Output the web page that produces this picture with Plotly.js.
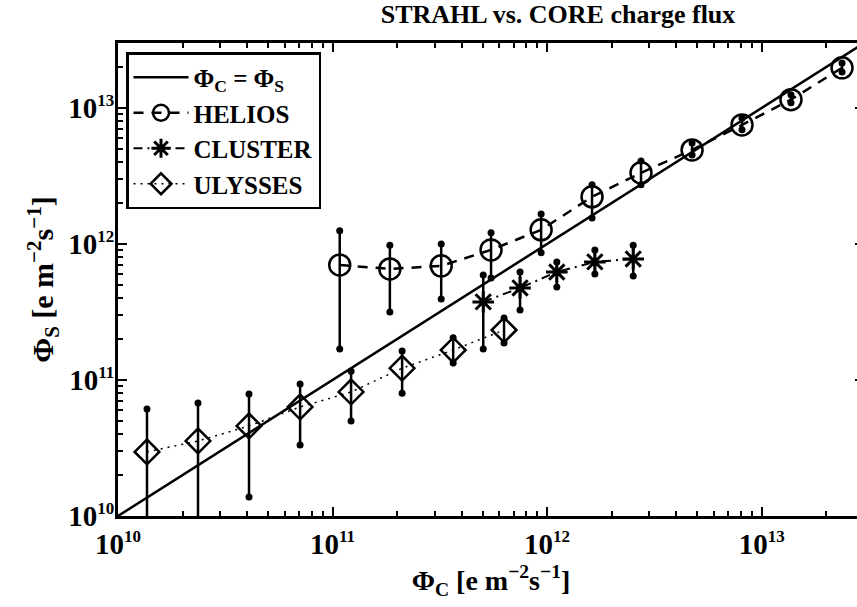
<!DOCTYPE html>
<html>
<head>
<meta charset="utf-8">
<script src="https://cdn.plot.ly/plotly-3.0.1.min.js"></script>
<style>
html,body{margin:0;padding:0;overflow:hidden;background:#fff;}
#chart{width:870px;height:607px;}
</style>
</head>
<body>
<div id="chart"></div>
<script>
// Identity line Phi_C = Phi_S
const diagX = [1e10, 3e13];
const diagY = [1e10, 3e13];

// HELIOS
const helX  = [1.08e11, 1.85e11, 3.21e11, 5.48e11, 9.38e11, 1.62e12, 2.74e12, 4.74e12, 8.1e12, 1.37e13, 2.37e13];
const helY  = [7.0e11, 6.55e11, 6.9e11, 9.04e11, 1.27e12, 2.22e12, 3.33e12, 4.91e12, 7.5e12, 1.15e13, 1.97e13];
const helHi = [1.25e12, 9.8e11, 1.0e12, 1.21e12, 1.66e12, 2.72e12, 4.07e12, 5.53e12, 8.4e12, 1.25e13, 2.14e13];
const helLo = [1.69e11, 3.16e11, 3.94e11, 5.62e11, 8.6e11, 1.55e12, 2.72e12, 4.5e12, 6.9e12, 1.09e13, 1.84e13];

// CLUSTER
const cluX  = [5.04e11, 7.48e11, 1.11e12, 1.67e12, 2.52e12];
const cluY  = [3.75e11, 4.75e11, 6.22e11, 7.38e11, 7.76e11];
const cluHi = [5.92e11, 6.22e11, 7.38e11, 9.04e11, 9.8e11];
const cluLo = [1.69e11, 3.27e11, 4.83e11, 6.0e11, 5.8e11];

// ULYSSES
const ulyX  = [1.365e10, 2.36e10, 4.08e10, 7.06e10, 1.22e11, 2.11e11, 3.65e11, 6.3e11];
const ulyY  = [2.96e10, 3.56e10, 4.59e10, 6.33e10, 8.16e10, 1.22e11, 1.66e11, 2.33e11];
const ulyHi = [6.12e10, 6.78e10, 7.89e10, 9.35e10, 1.16e11, 1.63e11, 2.04e11, 2.86e11];
const ulyLo = [5e9, 5e9, 1.38e10, 3.33e10, 5.0e10, 8.0e10, 1.33e11, 1.87e11];

// Axis ticks
const majorVals = [1e10, 1e11, 1e12, 1e13];
const majorExp  = ['10', '11', '12', '13'];
const majorText = majorExp.map(e => '10<sup><span style="font-size:17px">' + e + '</span></sup>');
const minorVals = [];
[10, 11, 12, 13].forEach(function (e) {
  for (let m = 2; m <= 9; m++) minorVals.push(m * Math.pow(10, e));
});

const serif = 'Liberation Serif, Times New Roman, serif';

function errTrace(x, y, hi, lo) {
  return {
    type: 'scatter', mode: 'markers', showlegend: false, hoverinfo: 'skip',
    x: x, y: y,
    marker: {size: 0.1, color: 'rgba(0,0,0,0)'},
    error_y: {type: 'data', symmetric: false,
      array: hi.map((h, i) => h - y[i]),
      arrayminus: lo.map((l, i) => y[i] - l),
      color: 'black', thickness: 2.5, width: 0}
  };
}
function dotTrace(x, hi, lo) {
  return {
    type: 'scatter', mode: 'markers', showlegend: false, hoverinfo: 'skip',
    x: x.concat(x), y: hi.concat(lo),
    marker: {symbol: 'circle', size: 7, color: 'black'}
  };
}

const traces = [
  errTrace(helX, helY, helHi, helLo),
  errTrace(cluX, cluY, cluHi, cluLo),
  errTrace(ulyX, ulyY, ulyHi, ulyLo),
  dotTrace(helX, helHi, helLo),
  dotTrace(cluX, cluHi, cluLo),
  dotTrace(ulyX, ulyHi, ulyLo),
  {type: 'scatter', mode: 'lines', name: 'Φ<sub>C</sub> = Φ<sub>S</sub>',
   x: diagX, y: diagY, line: {color: 'black', width: 2.5}},
  {type: 'scatter', mode: 'lines+markers', name: 'HELIOS',
   x: helX, y: helY, line: {color: 'black', width: 2.5, dash: '10px,8px'},
   marker: {symbol: 'circle-open', size: 21, color: 'black', line: {width: 2.5, color: 'black'}}},
  {type: 'scatter', mode: 'lines+markers', name: 'CLUSTER',
   x: cluX, y: cluY, line: {color: 'black', width: 2, dash: '9px,5px,2px,5px'},
   marker: {symbol: 'asterisk-open', size: 18, color: 'black', line: {width: 3, color: 'black'}}},
  {type: 'scatter', mode: 'lines+markers', name: 'ULYSSES',
   x: ulyX, y: ulyY, line: {color: 'black', width: 1.5, dash: '2px,5px'},
   marker: {symbol: 'diamond-open', size: 19, color: 'black', line: {width: 2.5, color: 'black'}}}
];

function axis(titleText, range, titleSize) {
  return {
    type: 'log', range: range, autorange: false,
    showgrid: false, zeroline: false,
    showline: true, linecolor: 'black', linewidth: 3, mirror: 'ticks',
    ticks: 'inside', ticklen: 9, tickwidth: 2, tickcolor: 'black',
    tickmode: 'array', tickvals: majorVals, ticktext: majorText,
    tickfont: {family: serif, size: 29, color: 'black', weight: 700},
    minor: {tickmode: 'array', tickvals: minorVals, ticks: 'inside', ticklen: 5,
            tickwidth: 2, tickcolor: 'black', showgrid: false},
    title: {text: titleText, font: {family: serif, size: titleSize, color: 'black', weight: 700}}
  };
}

const xa = axis('Φ<sub>C</sub> [e m<sup>−2</sup>s<sup>−1</sup>]', [10, Math.log10(3e13)], 28);
xa.title.standoff = 12;
const ya = axis('Φ<sub>S</sub> [e m<sup>−2</sup>s<sup>−1</sup>]', [10, Math.log10(3e13)], 30);
ya.title.standoff = 6;
ya.ticklabelstandoff = -5;

const layout = {
  width: 870, height: 607,
  margin: {l: 118, r: 6, t: 43, b: 91},
  paper_bgcolor: 'white', plot_bgcolor: 'white',
  showlegend: true,
  title: {text: 'STRAHL vs. CORE charge flux', xref: 'container', yref: 'container',
          x: 558 / 870, xanchor: 'center', y: 1 - 14 / 607, yanchor: 'middle',
          font: {family: serif, size: 26, color: 'black', weight: 700}},
  xaxis: xa, yaxis: ya,
  legend: {x: 8 / 746, y: (516 - 52) / 473, xanchor: 'left', yanchor: 'top',
           bgcolor: 'white', bordercolor: 'black', borderwidth: 2.5,
           itemwidth: 55, tracegroupgap: 0,
           font: {family: serif, size: 25, color: 'black', weight: 700}}
};

Plotly.newPlot('chart', traces, layout, {displayModeBar: false, staticPlot: true});
</script>
</body>
</html>
